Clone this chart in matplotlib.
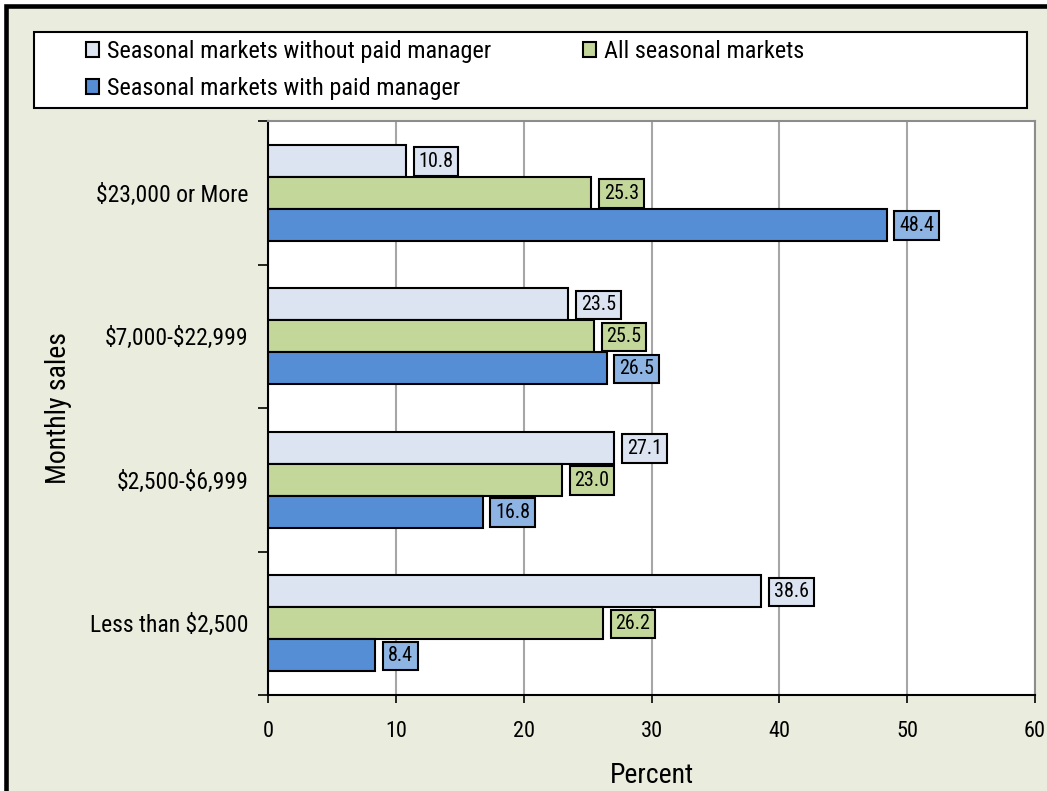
import numpy as np
import matplotlib.pyplot as plt
from matplotlib.patches import Rectangle, Patch

plt.rcParams['font.family'] = ['Roboto Condensed', 'Archivo Narrow', 'DejaVu Sans']

categories = ["Less than \\$2,500", "\\$2,500-\\$6,999", "\\$7,000-\\$22,999", "\\$23,000 or More"]
series_names = ["Seasonal markets without paid manager",
                "All seasonal markets",
                "Seasonal markets with paid manager"]
without_mgr = [38.6, 27.1, 23.5, 10.8]
all_markets = [26.2, 23.0, 25.5, 25.3]
with_mgr = [8.4, 16.8, 26.5, 48.4]

bar_colors = ["#DCE3F1", "#C4D79B", "#558ED5"]
label_colors = ["#DCE3F1", "#C4D79B", "#8DB4E2"]
bg = "#EAEDDE"

W, H = 1047, 791
fig = plt.figure(figsize=(W / 100, H / 100), dpi=100, facecolor="white")
# chart area background with thick black border on left/top
fig.add_artist(Rectangle((6 / W, -0.2), 1.5, 1.2 - 6 / H,
                         transform=fig.transFigure, facecolor=bg,
                         edgecolor="black", lw=3.3, zorder=0))

ax = fig.add_axes([268 / W, 1 - 695 / H, (1035 - 268) / W, (695 - 121) / H])
ax.set_facecolor("white")

y = np.arange(len(categories))
h = 0.223
series = [without_mgr, all_markets, with_mgr]
offsets = [h, 0, -h]
handles = []
for vals, off, bc, lc, name in zip(series, offsets, bar_colors, label_colors, series_names):
    bars = ax.barh(y + off, vals, height=h, color=bc, edgecolor="black", lw=1.5, zorder=3)
    handles.append(Patch(facecolor=bc, edgecolor="black", lw=1.5, label=name))
    for b, v in zip(bars, vals):
        ax.annotate(f"{v:.1f}", xy=(v, b.get_y() + h / 2), xytext=(9, -0.5),
                    textcoords="offset points", ha="left", va="center",
                    fontsize=14.5, zorder=4,
                    bbox=dict(boxstyle="square,pad=0.24", facecolor=lc,
                              edgecolor="black", lw=1.5))

ax.set_xlim(0, 60)
ax.set_ylim(-0.5, 3.5)
ax.set_xticks(np.arange(0, 61, 10))
ax.tick_params(axis="x", labelsize=16, length=6, width=1.2, pad=13, direction="out")
ax.set_yticks(y)
ax.set_yticklabels(categories, fontsize=17)
ax.tick_params(axis="y", which="major", length=0, pad=14)
ax.set_yticks(np.arange(-0.5, 3.6, 1), minor=True)
ax.tick_params(axis="y", which="minor", length=7, width=1.2, direction="out")
ax.grid(axis="x", color="#A6A6A6", lw=1.5, zorder=0)
ax.set_axisbelow(True)

for s in ["top", "right"]:
    ax.spines[s].set_color("#8C8C8C")
    ax.spines[s].set_linewidth(1.5)
for s in ["left", "bottom"]:
    ax.spines[s].set_color("black")
    ax.spines[s].set_linewidth(1.5)

ax.set_xlabel("Percent", fontsize=20)
ax.xaxis.set_label_coords(0.5, -0.117)
ax.set_ylabel("Monthly sales", fontsize=20)
ax.yaxis.set_label_coords(-0.255, 0.5)

# legend box
fig.add_artist(Rectangle((34 / W, 1 - 108 / H), (1027 - 34) / W, 76 / H,
                         transform=fig.transFigure, facecolor="white",
                         edgecolor="black", lw=1.5, zorder=1))
leg_kw = dict(loc="upper left", fontsize=17.5, frameon=False,
              handlelength=0.55, handleheight=0.55, handletextpad=0.3,
              labelspacing=0.58, borderaxespad=0, borderpad=0)
leg1 = fig.legend(handles=[handles[0], handles[2]], bbox_to_anchor=(86 / W, 1 - 40 / H), **leg_kw)
leg2 = fig.legend(handles=[handles[1]], bbox_to_anchor=(583 / W, 1 - 40 / H), **leg_kw)
leg1.set_zorder(2)
leg2.set_zorder(2)

fig.savefig("out.png", dpi=100, facecolor=fig.get_facecolor())
